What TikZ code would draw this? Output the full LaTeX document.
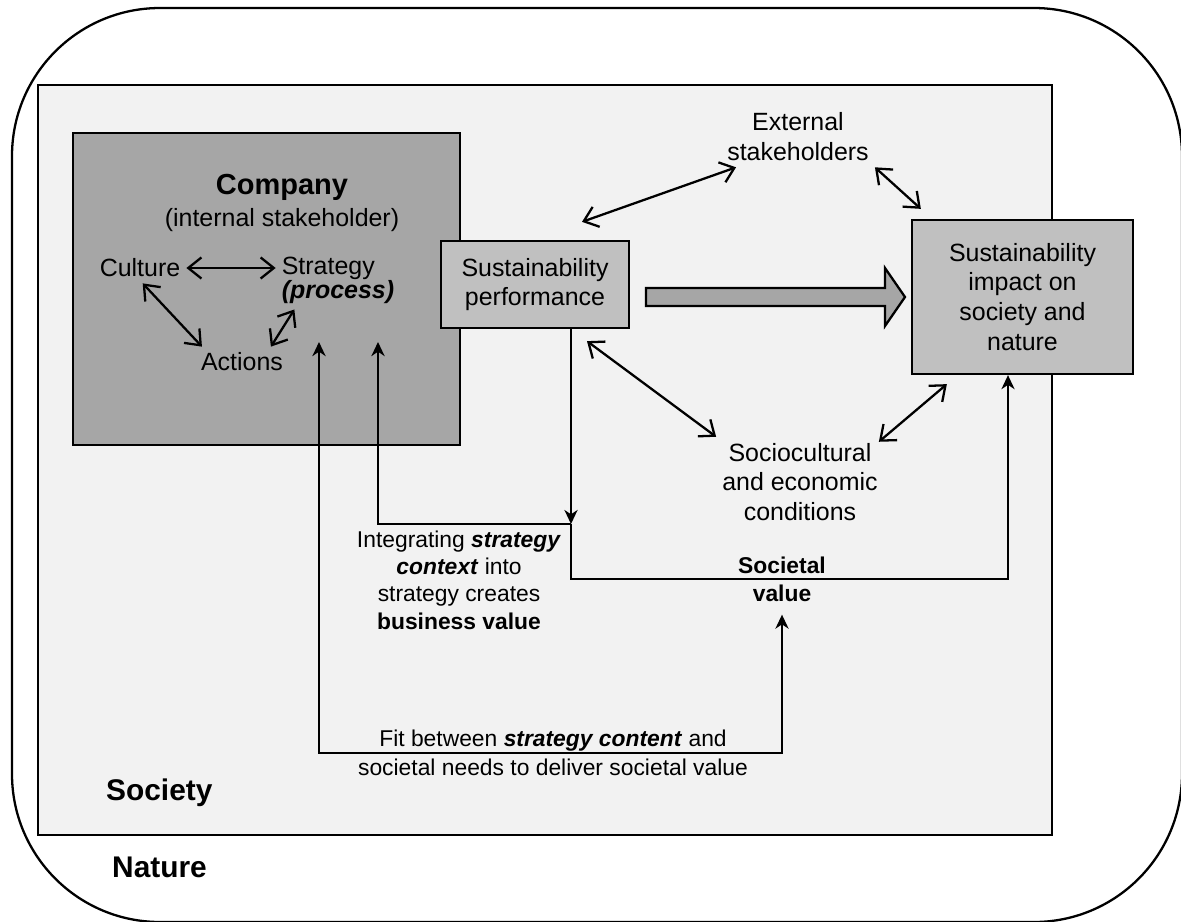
\documentclass[tikz,border=0pt]{standalone}
\usepackage{fontspec}
\setmainfont{Liberation Sans}
\usetikzlibrary{arrows.meta}
\newlength{\pxlen}
\setlength{\pxlen}{0.02cm}
\definecolor{societygray}{HTML}{F2F2F2}
\definecolor{companygray}{HTML}{A6A6A6}
\definecolor{boxgray}{HTML}{C0C0C0}
\newcommand{\bfit}[1]{\textbf{\textit{#1}}}

\begin{document}
\begin{tikzpicture}[x={(0.02cm,0)},y={(0,-0.02cm)}]
  \tikzstyle{boxtext}=[font=\fontsize{14.2}{17}\selectfont, align=center]
  \tikzstyle{labeltext}=[font=\fontsize{13}{15.6}\selectfont, align=center]
  \tikzstyle{titletext}=[font=\bfseries\fontsize{17}{20}\selectfont, anchor=west]
  \tikzstyle{graybox}=[draw, line width=1.3pt, fill=boxgray, boxtext,
       inner sep=0pt]
  \tikzstyle{dblarrow}=[line width=1.3pt,
       {Straight Barb[length=7.5pt,width=12pt]}-{Straight Barb[length=7.5pt,width=12pt]}]
  \tikzstyle{flowarrow}=[line width=1.3pt,
       -{Stealth[length=8pt,width=7.5pt,inset=2.5pt]}]
  \useasboundingbox (0,0) rectangle (1181,921);

  % nature and society
  \draw[line width=1.3pt, rounded corners=148\pxlen] (12,8) rectangle (1182,922);
  \draw[line width=1.5pt, fill=societygray] (38,85) rectangle (1052,835);
  \node[titletext] (society) at (100,793) {Society};
  \node[titletext] (nature) at (106,867) {Nature};

  % company
  \node[draw, line width=1.3pt, fill=companygray, minimum width=387\pxlen,
       minimum height=312\pxlen] (company) at (266.5,289) {};
  \node[font=\bfseries\fontsize{16.5}{19}\selectfont] (companytitle) at (282,187) {Company};
  \node[boxtext] (internal) at (282,220) {(internal stakeholder)};
  \node[boxtext] (culture) at (140,268) {Culture};
  \node[font=\fontsize{14.2}{13.6}\selectfont, align=left] (strategy) at (338,280)
       {Strategy\\\bfit{(process)}};
  \node[boxtext] (actions) at (242,362) {Actions};

  \draw[dblarrow] (culture.east) -- (culture.east -| strategy.west);
  \draw[dblarrow] (culture.-80) -- (actions.159);
  \draw[dblarrow] (actions.28) -- (strategy.214);

  % outcomes
  \node[graybox, minimum width=188\pxlen, minimum height=87\pxlen] (perf)
       at (535,284.5) {Sustainability\\performance};
  \node[graybox, minimum width=221\pxlen, minimum height=154\pxlen] (impact)
       at (1022.5,297) {Sustainability\\impact on\\society and\\nature};
  \node[boxtext] (ext) at (798,137) {External\\stakeholders};
  \node[boxtext] (socio) at (800,482) {Sociocultural\\and economic\\conditions};

  \draw[line width=1.3pt, fill=companygray] (646,288) -- (885,288) -- (885,268)
       -- (905,297) -- (885,326) -- (885,306) -- (646,306) -- cycle;

  \draw[dblarrow] ([shift={(47,-18)}]perf.north) -- ([shift={(15,0)}]ext.south west);
  \draw[dblarrow] (ext.south east) -- ([shift={(10,-10)}]impact.north west);
  \draw[dblarrow] ([shift={(52,12)}]perf.south) -- (socio.north west);
  \draw[dblarrow] ([shift={(-5,5)}]socio.north east) -- ([shift={(36,9)}]impact.south west);

  % value creation
  \node[labeltext] (integrating) at (459,580)
       {Integrating \bfit{strategy}\\\bfit{context} into\\strategy creates\\\textbf{business value}};
  \node[labeltext, font=\bfseries\fontsize{13}{16}\selectfont] (societal) at (782,579)
       {Societal\\value};
  \node[labeltext, font=\fontsize{13}{16.5}\selectfont] (fit) at (553,753)
       {Fit between \bfit{strategy content} and\\societal needs to deliver societal value};

  \coordinate (junction) at (571,524);
  \coordinate (bvtip) at (378,342);
  \coordinate (svtip) at (319,342);
  \draw[flowarrow] (perf.south -| junction) -- (junction);
  \draw[flowarrow] (junction) -| (bvtip);
  \draw[flowarrow] (junction) -- (junction |- societal) -| ([xshift=-14.5\pxlen]impact.south);
  \draw[line width=1.3pt, {Stealth[length=8pt,width=7.5pt,inset=2.5pt]}-{Stealth[length=8pt,width=7.5pt,inset=2.5pt]}]
       (svtip) |- (fit.center) -| ([yshift=-7\pxlen]societal.south);
\end{tikzpicture}
\end{document}
